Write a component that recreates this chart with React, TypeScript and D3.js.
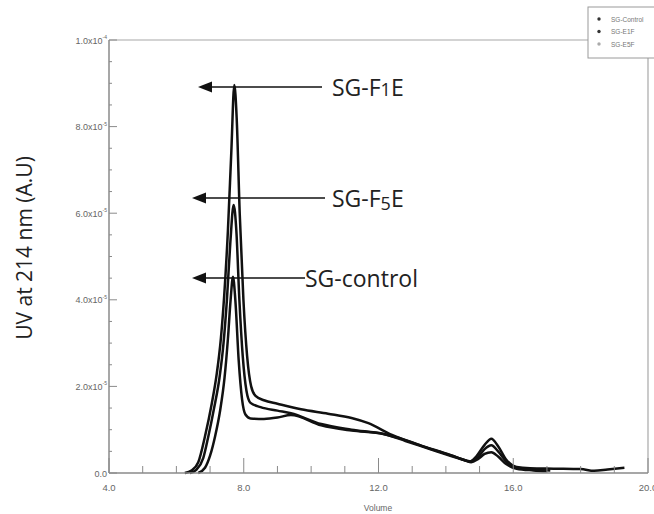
import React, { useEffect, useRef } from 'react';
import * as d3 from 'd3';

// elution profiles, UV in units of 1e-5
const seriesNames = ['SG-F1E', 'SG-F5E', 'SG-control'];

const f1eProfile = [
  [6.25, 0], [6.45, 0.06], [6.65, 0.25], [6.85, 0.85], [7.05, 1.6], [7.2, 2.3], [7.32, 3.1],
  [7.42, 4.1], [7.53, 5.6], [7.63, 7.4], [7.72, 8.96], [7.79, 8.2], [7.88, 6.0], [7.99, 4.0],
  [8.1, 2.7], [8.22, 2.0], [8.35, 1.78], [8.6, 1.68], [9.0, 1.6], [9.7, 1.47], [10.5, 1.37],
  [11.2, 1.27], [11.7, 1.15], [12.4, 0.88], [13.2, 0.65], [13.95, 0.46], [14.55, 0.3],
  [14.7, 0.26], [14.9, 0.38], [15.15, 0.65], [15.35, 0.79], [15.55, 0.62], [15.8, 0.3],
  [16.1, 0.14], [16.5, 0.11], [17.2, 0.1], [18.0, 0.09], [18.4, 0.05], [18.8, 0.08], [19.3, 0.12],
];

const f5eProfile = [
  [6.4, 0], [6.6, 0.08], [6.8, 0.35], [6.95, 0.85], [7.12, 1.5], [7.28, 2.2], [7.4, 3.0],
  [7.5, 4.0], [7.6, 5.3], [7.7, 6.19], [7.78, 5.6], [7.87, 4.0], [7.97, 2.7], [8.08, 1.9],
  [8.2, 1.62], [8.5, 1.52], [9.0, 1.44], [9.4, 1.38], [10.3, 1.13], [11.2, 1.0], [12.15, 0.9],
  [12.8, 0.76], [13.5, 0.57], [14.2, 0.4], [14.6, 0.29], [14.75, 0.27], [14.95, 0.36],
  [15.15, 0.55], [15.35, 0.64], [15.55, 0.5], [15.8, 0.26], [16.1, 0.12], [16.6, 0.08], [17.1, 0.06],
];

const controlProfile = [
  [6.65, 0], [6.85, 0.12], [7.0, 0.4], [7.15, 0.85], [7.3, 1.45], [7.43, 2.2], [7.53, 3.1],
  [7.61, 4.0], [7.68, 4.53], [7.75, 4.0], [7.85, 2.6], [7.95, 1.7], [8.05, 1.35], [8.2, 1.26],
  [8.6, 1.25], [9.0, 1.28], [9.4, 1.34], [10.3, 1.1], [11.2, 0.98], [12.15, 0.9], [12.8, 0.74],
  [13.5, 0.56], [14.2, 0.38], [14.6, 0.28], [14.75, 0.25], [14.95, 0.32], [15.15, 0.44],
  [15.35, 0.48], [15.55, 0.38], [15.8, 0.2], [16.1, 0.1], [16.6, 0.06], [17.0, 0.04],
];

const xTicks = [4, 8, 12, 16, 20];
const yTicks = [0, 2, 4, 6, 8, 10];
const yTickBase = ['0.0', '2.0x10', '4.0x10', '6.0x10', '8.0x10', '1.0x10'];
const yTickExp = ['', '-5', '-5', '-5', '-5', '-4'];
const legendNames = ['SG-Control', 'SG-E1F', 'SG-E5F'];

const App = () => {
  const svgRef = useRef(null);

  useEffect(() => {
    const width = 654;
    const height = 514;
    const svg = d3.select(svgRef.current);
    svg.selectAll('*').remove();
    svg.attr('width', width).attr('height', height);

    const left = 109, right = 648, top = 40, bottom = 473;
    const x = d3.scaleLinear().domain([4, 20]).range([left, right]);
    const y = d3.scaleLinear().domain([0, 10]).range([bottom, top]);
    const axisColor = '#8a8a8a';
    const labelFont = 'Liberation Sans, Arial, sans-serif';

    svg.append('rect').attr('width', width).attr('height', height).attr('fill', '#fff');

    // frame top + right
    svg.append('path')
      .attr('d', `M${left},${top}H${right}V${bottom}`)
      .attr('fill', 'none').attr('stroke', '#a8a8a8').attr('stroke-width', 1.2);

    // curves
    const line = d3.line()
      .x(d => x(d[0]))
      .y(d => y(d[1]))
      .curve(d3.curveMonotoneX);

    [f1eProfile, f5eProfile, controlProfile].forEach((p, i) => {
      svg.append('path')
        .datum(p)
        .attr('d', line)
        .attr('fill', 'none')
        .attr('stroke', '#111')
        .attr('stroke-width', 2.5)
        .attr('stroke-linejoin', 'round')
        .attr('class', 'series-' + seriesNames[i]);
    });

    // axes
    svg.append('line').attr('x1', left).attr('x2', left).attr('y1', top).attr('y2', bottom)
      .attr('stroke', axisColor).attr('stroke-width', 1.5);
    svg.append('line').attr('x1', left).attr('x2', right).attr('y1', bottom).attr('y2', bottom)
      .attr('stroke', axisColor).attr('stroke-width', 1.5);

    // x ticks: majors every 4, minors every 1
    d3.range(4, 20.01, 1).forEach(v => {
      const major = v % 4 === 0;
      svg.append('line')
        .attr('x1', x(v)).attr('x2', x(v))
        .attr('y1', bottom).attr('y2', bottom - (major ? 15 : 7))
        .attr('stroke', axisColor).attr('stroke-width', 1);
    });
    svg.selectAll('.xlab')
      .data(xTicks)
      .enter().append('text')
      .attr('x', d => x(d))
      .attr('y', bottom + 18)
      .attr('text-anchor', 'middle')
      .attr('font-family', labelFont)
      .attr('font-size', 9.5)
      .attr('fill', '#666')
      .text(d => d.toFixed(1));

    // y ticks: majors every 2, minors every 0.5
    d3.range(0, 10.01, 0.5).forEach(v => {
      const major = v % 2 === 0;
      svg.append('line')
        .attr('x1', left).attr('x2', left + (major ? 8 : 3))
        .attr('y1', y(v)).attr('y2', y(v))
        .attr('stroke', axisColor).attr('stroke-width', 1);
    });
    yTicks.forEach((v, i) => {
      const t = svg.append('text')
        .attr('x', left - 2)
        .attr('y', y(v) + 3.5)
        .attr('text-anchor', 'end')
        .attr('font-family', labelFont)
        .attr('font-size', 9)
        .attr('fill', '#666');
      t.append('tspan').text(yTickBase[i]);
      if (yTickExp[i]) {
        t.append('tspan').attr('dy', -4.5).attr('font-size', 5).text(yTickExp[i]);
      }
    });

    // axis titles
    svg.append('text')
      .attr('x', 378).attr('y', 511)
      .attr('text-anchor', 'middle')
      .attr('font-family', labelFont)
      .attr('font-size', 8.5)
      .attr('fill', '#666')
      .text('Volume');

    svg.append('text')
      .attr('transform', 'translate(32,248) rotate(-90)')
      .attr('text-anchor', 'middle')
      .attr('font-family', 'Open Sans, sans-serif')
      .attr('font-size', 21)
      .attr('fill', '#222')
      .text('UV at 214 nm (A.U)');

    // annotations with arrows
    const notes = [
      { ay: 87, tip: 198, end: 322, tx: 332, sub: '1', lower: false },
      { ay: 198, tip: 192, end: 325, tx: 332, sub: '5', lower: true },
      { ay: 278, tip: 192, end: 305, tx: 305, sub: '', lower: false },
    ];
    notes.forEach((n, i) => {
      svg.append('line')
        .attr('x1', n.tip + 10).attr('x2', n.end)
        .attr('y1', n.ay).attr('y2', n.ay)
        .attr('stroke', '#111').attr('stroke-width', 1.6);
      svg.append('path')
        .attr('d', `M${n.tip},${n.ay}L${n.tip + 14},${n.ay - 5.5}L${n.tip + 14},${n.ay + 5.5}Z`)
        .attr('fill', '#111');
      const t = svg.append('text')
        .attr('x', n.tx)
        .attr('y', n.ay + 9)
        .attr('font-family', 'Open Sans, sans-serif')
        .attr('font-size', 23)
        .attr('fill', '#222');
      if (n.sub) {
        t.append('tspan').text('SG-F');
        t.append('tspan').attr('font-size', 18).attr('dy', n.lower ? 3 : 0).text(n.sub);
        t.append('tspan').attr('dy', n.lower ? -3 : 0).text('E');
      } else {
        t.text(seriesNames[i]);
      }
    });

    // legend box (top right)
    const lg = svg.append('g');
    lg.append('rect')
      .attr('x', 588).attr('y', 7).attr('width', 80).attr('height', 51)
      .attr('fill', '#fff').attr('stroke', '#9a9a9a').attr('stroke-width', 1);
    legendNames.forEach((name, i) => {
      lg.append('circle')
        .attr('cx', 599).attr('cy', 19 + i * 12.5).attr('r', 1.7)
        .attr('fill', i === 2 ? '#aaa' : '#333');
      lg.append('text')
        .attr('x', 611).attr('y', 21.5 + i * 12.5)
        .attr('font-family', labelFont)
        .attr('font-size', 6.5)
        .attr('fill', '#777')
        .text(name);
    });
  }, []);

  return (
    <svg ref={svgRef} style={{ position: 'absolute', left: 0, top: 0, display: 'block' }}></svg>
  );
};

export default App;
